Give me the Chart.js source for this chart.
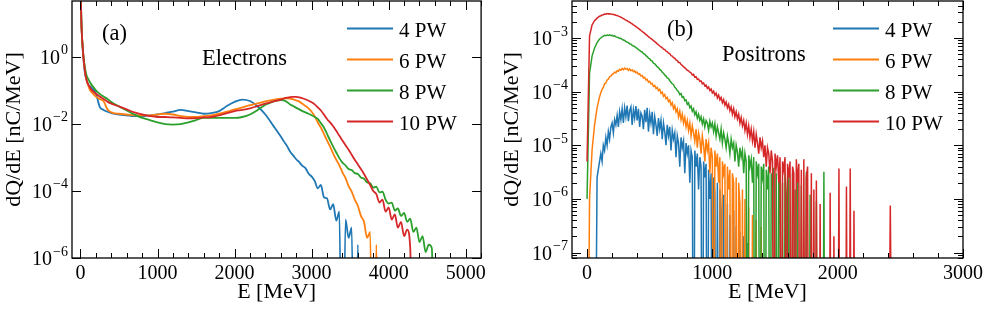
<!DOCTYPE html>
<html>
<head>
<meta charset="utf-8">
<script src="https://cdn.jsdelivr.net/npm/chart.js@4.4.0/dist/chart.umd.min.js"></script>
<style>
  body { margin: 0; background: #fff; }
  canvas { position: absolute; top: 0; }
</style>
</head>
<body>
<canvas id="chartA" width="490" height="309" style="left:0"></canvas>
<canvas id="chartB" width="497" height="309" style="left:490px"></canvas>
<script>
// Series names and colours (same for both panels)
const seriesNames = ['4 PW', '6 PW', '8 PW', '10 PW'];
const seriesColors = ['#1f77b4', '#ff7f0e', '#2ca02c', '#d62728'];

// Panel (a): electron spectra, energy grid in MeV
const eA = [0, 10, 20, 30, 40, 50, 60, 80, 100, 125,
    150, 200, 250, 300, 350, 400, 500, 600, 700, 800,
    900, 1000, 1100, 1200, 1300, 1400, 1500, 1600, 1700, 1800,
    1900, 2000, 2100, 2200, 2300, 2400, 2500, 2600,
    2640, 2680, 2720, 2760, 2800, 2840, 2880, 2920, 2960, 3000,
    3040, 3080, 3120, 3160, 3200, 3240, 3280, 3320, 3360, 3400,
    3440, 3480, 3520, 3560, 3600, 3640, 3680, 3720, 3760, 3800,
    3840, 3880, 3920, 3960, 4000, 4040, 4080, 4120, 4160, 4200,
    4240, 4280, 4320, 4360, 4400, 4440, 4480, 4520, 4560, 4600];

const qA4 = [300, 15, 3.5, 1.5, 0.8, 0.45, 0.3, 0.2, 0.15, 0.13,
    0.115, 0.08, 0.032, 0.026, 0.023, 0.021, 0.019, 0.018, 0.017, 0.017,
    0.018, 0.019, 0.021, 0.023, 0.026, 0.024, 0.022, 0.020, 0.021, 0.024,
    0.034, 0.045, 0.053, 0.048, 0.033, 0.019, 0.009, 0.0042,
    3.0e-3, 2.2e-3, 1.5e-3, 1.15e-3, 8.8e-4, 7.2e-4, 5.6e-4, 4.8e-4, 3.3e-4, 2.7e-4,
    2.0e-4, 1.2e-4, 1.5e-4, 6.5e-5, 6.0e-5, 2.8e-5, 4.0e-5, 1.3e-5, 2.4e-5, 1e-12,
    1.4e-5, 4e-6, 8e-6, 1e-12, 2.5e-6, 1e-12];

const qA6 = [300, 15, 4, 1.8, 0.9, 0.55, 0.35, 0.2, 0.14, 0.1,
    0.085, 0.065, 0.055, 0.047, 0.027, 0.022, 0.020, 0.019, 0.018, 0.018,
    0.018, 0.019, 0.020, 0.019, 0.017, 0.016, 0.016, 0.017, 0.018, 0.020,
    0.023, 0.027, 0.031, 0.036, 0.041, 0.047, 0.052, 0.056,
    0.057, 0.058, 0.057, 0.054, 0.050, 0.046, 0.040, 0.034, 0.029, 0.023,
    0.017, 0.011, 0.0078, 0.0050, 0.0032, 0.0021, 0.0013, 8.5e-4, 5.8e-4, 3.6e-4,
    2.4e-4, 1.4e-4, 9.5e-5, 5.5e-5, 3.6e-5, 1.8e-5, 1.2e-5, 4e-6, 6e-6, 1e-12,
    2.5e-6, 1e-12];

const qA8 = [300, 15, 4, 1.8, 1.0, 0.65, 0.45, 0.27, 0.22, 0.17,
    0.14, 0.1, 0.078, 0.065, 0.055, 0.045, 0.033, 0.025, 0.019, 0.015,
    0.013, 0.011, 0.0098, 0.0095, 0.0098, 0.011, 0.013, 0.015, 0.015, 0.015,
    0.015, 0.015, 0.016, 0.019, 0.026, 0.037, 0.046, 0.051,
    0.050, 0.045, 0.038, 0.034, 0.030, 0.027, 0.024, 0.022, 0.020, 0.018,
    0.016, 0.014, 0.0105, 0.0078, 0.0050, 0.0032, 0.0021, 0.0014, 9.5e-4, 7.0e-4,
    5.8e-4, 4.5e-4, 4.2e-4, 3.4e-4, 3.2e-4, 2.5e-4, 2.3e-4, 1.8e-4, 1.7e-4, 1.25e-4,
    1.35e-4, 9.0e-5, 9.5e-5, 5.5e-5, 4.2e-5, 4.5e-5, 2.6e-5, 3.0e-5, 1.8e-5, 2.2e-5,
    1.2e-5, 1.5e-5, 6e-6, 8e-6, 3e-6, 4.5e-6, 1.5e-6, 2.5e-6, 2e-6, 1e-12];

const qA10 = [300, 15, 4, 1.8, 0.9, 0.55, 0.35, 0.2, 0.15, 0.12,
    0.1, 0.08, 0.065, 0.055, 0.046, 0.04, 0.033, 0.027, 0.022, 0.019,
    0.017, 0.016, 0.016, 0.0155, 0.015, 0.0145, 0.0148, 0.0155, 0.016, 0.018,
    0.021, 0.024, 0.026, 0.029, 0.034, 0.040, 0.046, 0.053,
    0.057, 0.060, 0.063, 0.064, 0.064, 0.062, 0.058, 0.054, 0.049, 0.044,
    0.038, 0.031, 0.025, 0.019, 0.014, 0.011, 0.0085, 0.0062, 0.0044, 0.0032,
    0.0023, 0.0017, 0.0012, 8.5e-4, 6.2e-4, 4.5e-4, 3.2e-4, 2.2e-4, 1.5e-4, 1.0e-4,
    8.0e-5, 4.5e-5, 5.5e-5, 2.4e-5, 3.2e-5, 1.4e-5, 2.0e-5, 8e-6, 1.2e-5, 4.5e-6,
    7e-6, 2e-6, 1e-12];

// Panel (b): positron spectra, energy grid in MeV (histogram bins)
const ePos = [0, 20, 40, 60, 80, 100,
    110, 120, 130, 140, 150, 160, 170, 180, 190, 200,
    210, 220, 230, 240, 250, 260, 270, 280, 290, 300,
    310, 320, 330, 340, 350, 360, 370, 380, 390, 400,
    410, 420, 430, 440, 450, 460, 470, 480, 490, 500,
    510, 520, 530, 540, 550, 560, 570, 580, 590, 600,
    610, 620, 630, 640, 650, 660, 670, 680, 690, 700,
    710, 720, 730, 740, 750, 760, 770, 780, 790, 800,
    810, 820, 830, 840, 850, 860, 870, 880, 890, 900,
    910, 920, 930, 940, 950, 960, 970, 980, 990, 1000,
    1010, 1020, 1030, 1040, 1050, 1060, 1070, 1080, 1090, 1100,
    1110, 1120, 1130, 1140, 1150, 1160, 1170, 1180, 1190, 1200,
    1210, 1220, 1230, 1240, 1250, 1260, 1270, 1280, 1290, 1300,
    1310, 1320, 1330, 1340, 1350, 1360, 1370, 1380, 1390, 1400,
    1410, 1420, 1430, 1440, 1450, 1460, 1470, 1480, 1490, 1500,
    1510, 1520, 1530, 1540, 1550, 1560, 1570, 1580, 1590, 1600,
    1610, 1620, 1630, 1640, 1650, 1660, 1670, 1680, 1690, 1700,
    1710, 1720, 1730, 1740, 1750, 1760, 1770, 1780, 1790, 1800,
    1810, 1820, 1830, 1840, 1850, 1860, 1870, 1880, 1890, 1900,
    1910, 1920, 1930, 1940, 1950, 1960, 1970, 1980, 1990, 2000,
    2010, 2020, 2030, 2040, 2050, 2060, 2070, 2080, 2090, 2100,
    2110, 2120, 2130, 2140,
    2160, 2180, 2200, 2220, 2240, 2260, 2280, 2300, 2320, 2340,
    2360, 2380, 2400, 2420, 2440];

const pos4 = [1e-12, 1e-12, 1e-12, 1e-12, 2.5e-6, 5e-6,
    7e-6, 5e-6, 1.0e-5, 8e-6, 1.4e-5, 1.0e-5, 1.8e-5, 1.3e-5, 2.2e-5, 2.6e-5,
    1.7e-5, 3.0e-5, 2.4e-5, 3.6e-5, 2.2e-5, 4.2e-5, 3.0e-5, 4.8e-5, 2.6e-5, 5.0e-5,
    3.4e-5, 5.5e-5, 2.8e-5, 4.4e-5, 5.2e-5, 2.4e-5, 4.6e-5, 3.2e-5, 5.4e-5, 2.9e-5,
    4.8e-5, 2.2e-5, 4.0e-5, 3.5e-5, 2.0e-5, 4.6e-5, 2.7e-5, 5.0e-5, 1.8e-5, 3.8e-5,
    2.6e-5, 4.2e-5, 1.6e-5, 3.4e-5, 2.4e-5, 1.5e-5, 3.2e-5, 2.0e-5, 2.9e-5, 1.3e-5,
    2.6e-5, 1.8e-5, 1.0e-5, 2.4e-5, 1.5e-5, 2.2e-5, 8e-6, 1.9e-5, 1.3e-5, 1.7e-5,
    6e-6, 1.5e-5, 1.1e-5, 4e-6, 1.4e-5, 9e-6, 1.2e-5, 3e-6, 1.1e-5, 7e-6,
    1.0e-5, 2e-6, 8e-6, 6e-6, 1e-12, 8e-6, 4e-6, 7e-6, 1.5e-6, 6e-6,
    4e-6, 1e-12, 5e-6, 2.5e-6, 4.5e-6, 1e-12, 3.5e-6, 1e-6, 3e-6, 1e-12,
    2.5e-6, 1.2e-6, 1e-12, 2e-6, 1e-12, 1.5e-6, 6e-7, 1e-12, 1.2e-6, 1e-12,
    1e-12, 8e-7, 1e-12, 5e-7, 1e-12, 1e-12, 6e-7, 1e-12, 3e-7, 1e-12,
    1e-12, 2.5e-7, 1e-12, 1e-12, 2e-7, 1e-12, 1e-12, 1.5e-7, 1e-12, 1e-12];

const pos6 = [1e-12, 1e-6, 8e-6, 2.4e-5, 5.0e-5, 8.0e-5,
    9.5e-5, 1.1e-4, 1.2e-4, 1.4e-4, 1.45e-4, 1.65e-4, 1.7e-4, 1.9e-4, 1.95e-4, 2.1e-4,
    2.15e-4, 2.3e-4, 2.25e-4, 2.45e-4, 2.4e-4, 2.6e-4, 2.5e-4, 2.7e-4, 2.55e-4, 2.75e-4,
    2.6e-4, 2.7e-4, 2.5e-4, 2.65e-4, 2.45e-4, 2.55e-4, 2.35e-4, 2.45e-4, 2.25e-4, 2.3e-4,
    2.1e-4, 2.15e-4, 1.95e-4, 2.0e-4, 1.8e-4, 1.85e-4, 1.65e-4, 1.7e-4, 1.5e-4, 1.55e-4,
    1.4e-4, 1.42e-4, 1.25e-4, 1.3e-4, 1.15e-4, 1.2e-4, 1.05e-4, 1.1e-4, 9.3e-5, 9.8e-5,
    8.2e-5, 8.8e-5, 7.4e-5, 7.8e-5, 6.5e-5, 7.0e-5, 5.6e-5, 6.2e-5, 4.8e-5, 5.5e-5,
    4.2e-5, 4.8e-5, 3.4e-5, 4.3e-5, 3.0e-5, 3.8e-5, 2.6e-5, 3.3e-5, 2.2e-5, 2.9e-5,
    1.9e-5, 2.6e-5, 1.5e-5, 2.3e-5, 1.7e-5, 1.2e-5, 2.0e-5, 9e-6, 1.7e-5, 1.3e-5,
    7e-6, 1.5e-5, 1.0e-5, 5e-6, 1.3e-5, 8e-6, 1.1e-5, 3e-6, 9e-6, 6e-6,
    1e-12, 8e-6, 4e-6, 7e-6, 2e-6, 6e-6, 1e-12, 5e-6, 3e-6, 4.5e-6,
    1e-12, 4e-6, 1.5e-6, 3.5e-6, 1e-12, 3e-6, 2e-6, 1e-12, 2.5e-6, 1e-12,
    2e-6, 8e-7, 1e-12, 1.5e-6, 1e-12, 1e-6, 1e-12, 1e-12, 7e-7, 1e-12,
    1e-12, 5e-7, 1e-12, 1e-12, 4e-7, 1e-12, 1e-12, 1e-12, 3e-7, 1e-12];

const pos8 = [1e-6, 2.2e-4, 4.6e-4, 6.5e-4, 8.2e-4, 9.6e-4,
    1.0e-3, 1.05e-3, 1.08e-3, 1.12e-3, 1.1e-3, 1.14e-3, 1.12e-3, 1.15e-3, 1.11e-3, 1.12e-3,
    1.08e-3, 1.1e-3, 1.05e-3, 1.03e-3, 1.02e-3, 9.8e-4, 9.9e-4, 9.4e-4, 9.2e-4, 9.0e-4,
    8.6e-4, 8.4e-4, 8.2e-4, 7.8e-4, 7.7e-4, 7.3e-4, 7.1e-4, 6.9e-4, 6.6e-4, 6.4e-4,
    6.1e-4, 5.9e-4, 5.6e-4, 5.5e-4, 5.1e-4, 5.0e-4, 4.7e-4, 4.5e-4, 4.2e-4, 4.1e-4,
    3.8e-4, 3.7e-4, 3.4e-4, 3.3e-4, 3.1e-4, 2.9e-4, 2.8e-4, 2.6e-4, 2.5e-4, 2.3e-4,
    2.2e-4, 2.05e-4, 1.95e-4, 1.8e-4, 1.75e-4, 1.6e-4, 1.5e-4, 1.4e-4, 1.35e-4, 1.2e-4,
    1.15e-4, 1.05e-4, 1.0e-4, 8.8e-5, 9.2e-5, 7.8e-5, 8.0e-5, 6.8e-5, 7.0e-5, 5.8e-5,
    6.2e-5, 5.0e-5, 5.4e-5, 4.3e-5, 4.8e-5, 3.7e-5, 4.2e-5, 3.2e-5, 3.8e-5, 2.9e-5,
    3.4e-5, 2.5e-5, 3.1e-5, 2.2e-5, 2.9e-5, 2.6e-5, 1.9e-5, 2.8e-5, 2.2e-5, 2.6e-5,
    1.8e-5, 2.5e-5, 1.5e-5, 2.2e-5, 1.7e-5, 1.3e-5, 2.0e-5, 1.1e-5, 1.7e-5, 1.3e-5,
    9e-6, 1.5e-5, 1.1e-5, 7e-6, 1.3e-5, 9e-6, 1.1e-5, 5e-6, 1.0e-5, 7.5e-6,
    4e-6, 9e-6, 6e-6, 8e-6, 3e-6, 7e-6, 5e-6, 1e-12, 6.5e-6, 4e-6,
    5.5e-6, 2e-6, 6e-6, 1e-12, 5e-6, 3e-6, 4.5e-6, 1e-12, 4e-6, 2.5e-6,
    4.5e-6, 1e-12, 3.5e-6, 1.5e-6, 4e-6, 1e-12, 3e-6, 2e-6, 3.8e-6, 1e-12,
    3e-6, 1e-12, 2.5e-6, 3.2e-6, 1e-12, 2e-6, 1e-12, 3e-6, 1.2e-6, 1e-12,
    2.6e-6, 1e-12, 1e-12, 3e-6, 1e-12, 1.5e-6, 1e-12, 2.4e-6, 1e-12, 1e-12,
    1.8e-6, 1e-12, 1e-12, 1e-12, 3.2e-6, 1e-12, 1e-12, 1.2e-6, 1e-12, 1e-12,
    1e-12, 1e-12, 9e-7, 1e-12, 1e-12, 1e-12, 1e-12, 1e-12, 3.2e-6, 1e-12];

const pos10 = [5e-6, 1.1e-3, 1.75e-3, 2.1e-3, 2.35e-3, 2.55e-3,
    2.6e-3, 2.68e-3, 2.72e-3, 2.8e-3, 2.78e-3, 2.85e-3, 2.82e-3, 2.84e-3, 2.8e-3, 2.78e-3,
    2.75e-3, 2.72e-3, 2.66e-3, 2.62e-3, 2.56e-3, 2.5e-3, 2.44e-3, 2.38e-3, 2.3e-3, 2.22e-3,
    2.16e-3, 2.1e-3, 2.02e-3, 1.97e-3, 1.9e-3, 1.84e-3, 1.76e-3, 1.7e-3, 1.63e-3, 1.56e-3,
    1.51e-3, 1.45e-3, 1.38e-3, 1.33e-3, 1.27e-3, 1.22e-3, 1.16e-3, 1.12e-3, 1.06e-3, 1.02e-3,
    9.7e-4, 9.4e-4, 8.9e-4, 8.6e-4, 8.2e-4, 7.8e-4, 7.5e-4, 7.1e-4, 6.8e-4, 6.6e-4,
    6.2e-4, 6.1e-4, 5.7e-4, 5.6e-4, 5.2e-4, 5.1e-4, 4.7e-4, 4.6e-4, 4.3e-4, 4.2e-4,
    3.9e-4, 3.8e-4, 3.5e-4, 3.5e-4, 3.2e-4, 3.1e-4, 2.9e-4, 2.8e-4, 2.65e-4, 2.5e-4,
    2.45e-4, 2.3e-4, 2.25e-4, 2.05e-4, 2.1e-4, 1.85e-4, 1.9e-4, 1.7e-4, 1.72e-4, 1.55e-4,
    1.58e-4, 1.4e-4, 1.45e-4, 1.28e-4, 1.32e-4, 1.15e-4, 1.22e-4, 1.05e-4, 1.12e-4, 9.5e-5,
    1.02e-4, 8.6e-5, 9.4e-5, 7.6e-5, 8.6e-5, 7.0e-5, 7.8e-5, 6.2e-5, 7.1e-5, 5.6e-5,
    6.4e-5, 5.0e-5, 5.8e-5, 4.4e-5, 5.2e-5, 3.8e-5, 4.8e-5, 3.4e-5, 4.2e-5, 3.1e-5,
    3.8e-5, 2.6e-5, 3.3e-5, 2.3e-5, 2.9e-5, 1.9e-5, 2.6e-5, 1.6e-5, 2.3e-5, 1.4e-5,
    2.0e-5, 1.2e-5, 1.8e-5, 9e-6, 1.6e-5, 1.1e-5, 7e-6, 1.4e-5, 9e-6, 1.2e-5,
    6e-6, 1.0e-5, 4e-6, 9e-6, 7e-6, 3e-6, 8e-6, 5e-6, 1e-12, 7e-6,
    4e-6, 6.5e-6, 2e-6, 6e-6, 1e-12, 5e-6, 3.5e-6, 6e-6, 1e-12, 4.5e-6,
    2.5e-6, 5e-6, 1e-12, 4e-6, 3e-6, 1e-12, 5.5e-6, 2e-6, 4.5e-6, 1e-12,
    3.5e-6, 1e-12, 5.5e-6, 1e-12, 2.5e-6, 4e-6, 1e-12, 1e-12, 3e-6, 1e-12,
    1.5e-6, 1e-12, 2.2e-6, 1e-12, 1e-12, 8e-7, 1e-12, 1e-12, 1e-12, 1e-12,
    1e-12, 1e-12, 1e-12, 1.3e-6, 1e-12, 1e-12, 2e-7, 1e-12, 1e-12, 1e-12,
    3.7e-6, 1e-12, 1e-12, 1e-12, 1e-12, 1e-12, 1.7e-6, 1e-12, 1e-12, 3.7e-6,
    1e-12, 1e-12, 6e-7, 1e-12,
    1e-12, 1e-12, 1e-12, 1e-12, 1e-12, 1e-12, 1e-12, 1e-12, 1e-12, 1e-12,
    1e-12, 1e-12, 1e-12, 7.5e-7, 1e-12];

// Tick values
const xTicksA = [0, 1000, 2000, 3000, 4000, 5000];
const yTicksA = [1e-6, 1e-4, 1e-2, 1];
const xTicksB = [0, 1000, 2000, 3000];
const yTicksB = [1e-7, 1e-6, 1e-5, 1e-4, 1e-3];

const FONT = '"Liberation Serif", "Times New Roman", serif';

function toPoints(xs, ys) {
    return ys.map((v, i) => ({x: xs[i], y: v}));
}

// "10" with a raised exponent, right aligned at xRight
function drawPowLabel(ctx, v, xRight, py) {
    const base = '10';
    const exp = String(Math.round(Math.log10(v))).replace('-', '\u2212');
    ctx.font = '20px ' + FONT;
    const wb = ctx.measureText(base).width;
    ctx.font = '14px ' + FONT;
    const we = ctx.measureText(exp).width;
    const x0 = xRight - wb - we - 1;
    ctx.font = '20px ' + FONT;
    ctx.fillText(base, x0, py + 7);
    ctx.font = '14px ' + FONT;
    ctx.fillText(exp, x0 + wb + 1, py - 2.5);
}

// Inward ticks on all four sides, frame, y labels, legend and panel labels
const decoPlugin = {
    id: 'deco',
    afterDraw(chart, args, o) {
        const {ctx, chartArea: a, scales: {x, y}} = chart;
        ctx.save();
        ctx.strokeStyle = '#000';
        ctx.lineWidth = 1;
        ctx.beginPath();
        for (let v = Math.ceil(x.min / 200) * 200; v <= x.max; v += 200) {
            const px = Math.round(x.getPixelForValue(v)) + 0.5;
            const len = v % 1000 === 0 ? 9 : 5;
            ctx.moveTo(px, a.bottom); ctx.lineTo(px, a.bottom - len);
            ctx.moveTo(px, a.top); ctx.lineTo(px, a.top + len);
        }
        const yMarks = y.ticks.map(t => ({v: t.value, len: 9}));
        if (o.yMinor) {
            const k0 = Math.floor(Math.log10(y.min)), k1 = Math.ceil(Math.log10(y.max));
            for (let k = k0; k <= k1; k++) {
                for (let m = 2; m <= 9; m++) {
                    const v = m * Math.pow(10, k);
                    if (v >= y.min && v <= y.max) yMarks.push({v, len: 5});
                }
            }
        }
        yMarks.forEach(t => {
            const py = Math.round(y.getPixelForValue(t.v)) + 0.5;
            ctx.moveTo(a.left, py); ctx.lineTo(a.left + t.len, py);
            ctx.moveTo(a.right, py); ctx.lineTo(a.right - t.len, py);
        });
        ctx.stroke();
        ctx.lineWidth = 1.3;
        ctx.strokeRect(a.left, a.top, a.right - a.left, a.bottom - a.top);

        ctx.fillStyle = '#000';
        ctx.textAlign = 'left';
        ctx.textBaseline = 'alphabetic';
        y.ticks.forEach(t => drawPowLabel(ctx, t.value, a.left - 4, y.getPixelForValue(t.value)));

        // legend
        ctx.font = '21px ' + FONT;
        seriesNames.forEach((name, i) => {
            const ly = o.legendY + i * o.legendDy;
            ctx.strokeStyle = seriesColors[i];
            ctx.lineWidth = 2;
            ctx.beginPath();
            ctx.moveTo(o.legendX1, ly);
            ctx.lineTo(o.legendX2, ly);
            ctx.stroke();
            ctx.fillText(name, o.legendTextX, ly + 8);
        });

        // panel tag and particle name
        ctx.font = '22.5px ' + FONT;
        ctx.fillText(o.tag, o.tagX, o.tagY);
        ctx.fillText(o.name, o.nameX, o.nameY);
        ctx.restore();
    }
};

function makeDatasets(xs, series, width, smooth) {
    return series.map((ys, i) => ({
        label: seriesNames[i],
        data: toPoints(xs, ys),
        borderColor: seriesColors[i],
        borderWidth: width,
        pointRadius: 0,
        fill: false,
        cubicInterpolationMode: smooth ? 'monotone' : 'default',
        tension: 0,
        order: series.length - i
    }));
}

function makeChart(id, cfg) {
    return new Chart(document.getElementById(id), {
        type: 'line',
        data: {datasets: makeDatasets(cfg.xs, cfg.series, cfg.lineWidth, cfg.smooth)},
        options: {
            responsive: false,
            animation: false,
            events: [],
            layout: {padding: {top: 1, right: cfg.padRight, left: 0, bottom: 0}},
            scales: {
                x: {
                    type: 'linear',
                    min: cfg.xMin,
                    max: cfg.xMax,
                    afterBuildTicks: s => { s.ticks = cfg.xTicks.map(v => ({value: v})); },
                    afterFit: s => { s.height = 51; },
                    grid: {display: false, drawTicks: false},
                    border: {display: false},
                    ticks: {autoSkip: false, maxRotation: 0, padding: 4, color: '#000',
                        font: {family: FONT, size: 20}, callback: v => String(v)},
                    title: {display: true, text: 'E [MeV]', color: '#000',
                        font: {family: FONT, size: 22}, padding: {top: 0, bottom: 4}}
                },
                y: {
                    type: 'logarithmic',
                    min: cfg.yMin,
                    max: cfg.yMax,
                    afterBuildTicks: s => { s.ticks = cfg.yTicks.map(v => ({value: v})); },
                    afterFit: s => { s.width = cfg.yWidth; },
                    grid: {display: false, drawTicks: false},
                    border: {display: false},
                    ticks: {display: false},
                    title: {display: true, text: 'dQ/dE [nC/MeV]', color: '#000',
                        font: {family: FONT, size: 22}, padding: {top: cfg.yTitlePad, bottom: 0}}
                }
            },
            plugins: {
                legend: {display: false},
                tooltip: {enabled: false},
                deco: cfg.deco
            }
        },
        plugins: [decoPlugin]
    });
}

makeChart('chartA', {
    xs: eA, series: [qA4, qA6, qA8, qA10], lineWidth: 1.8, smooth: true,
    xMin: -110, xMax: 5200, xTicks: xTicksA,
    yMin: 1e-6, yMax: 46, yTicks: yTicksA,
    yWidth: 72, yTitlePad: 1, padRight: 8,
    deco: {yMinor: false, legendX1: 347, legendX2: 393, legendTextX: 399,
        legendY: 28.5, legendDy: 31, tag: '(a)', tagX: 102, tagY: 39.5,
        name: 'Electrons', nameX: 202, nameY: 65}
});

makeChart('chartB', {
    xs: ePos, series: [pos4, pos6, pos8, pos10], lineWidth: 1.5, smooth: false,
    xMin: -120, xMax: 3000, xTicks: xTicksB,
    yMin: 7.9e-8, yMax: 4.9e-3, yTicks: yTicksB,
    yWidth: 82, yTitlePad: 9, padRight: 20,
    deco: {yMinor: true, legendX1: 343, legendX2: 389, legendTextX: 395,
        legendY: 28.5, legendDy: 31, tag: '(b)', tagX: 177, tagY: 36,
        name: 'Positrons', nameX: 232, nameY: 61}
});
</script>
</body>
</html>
